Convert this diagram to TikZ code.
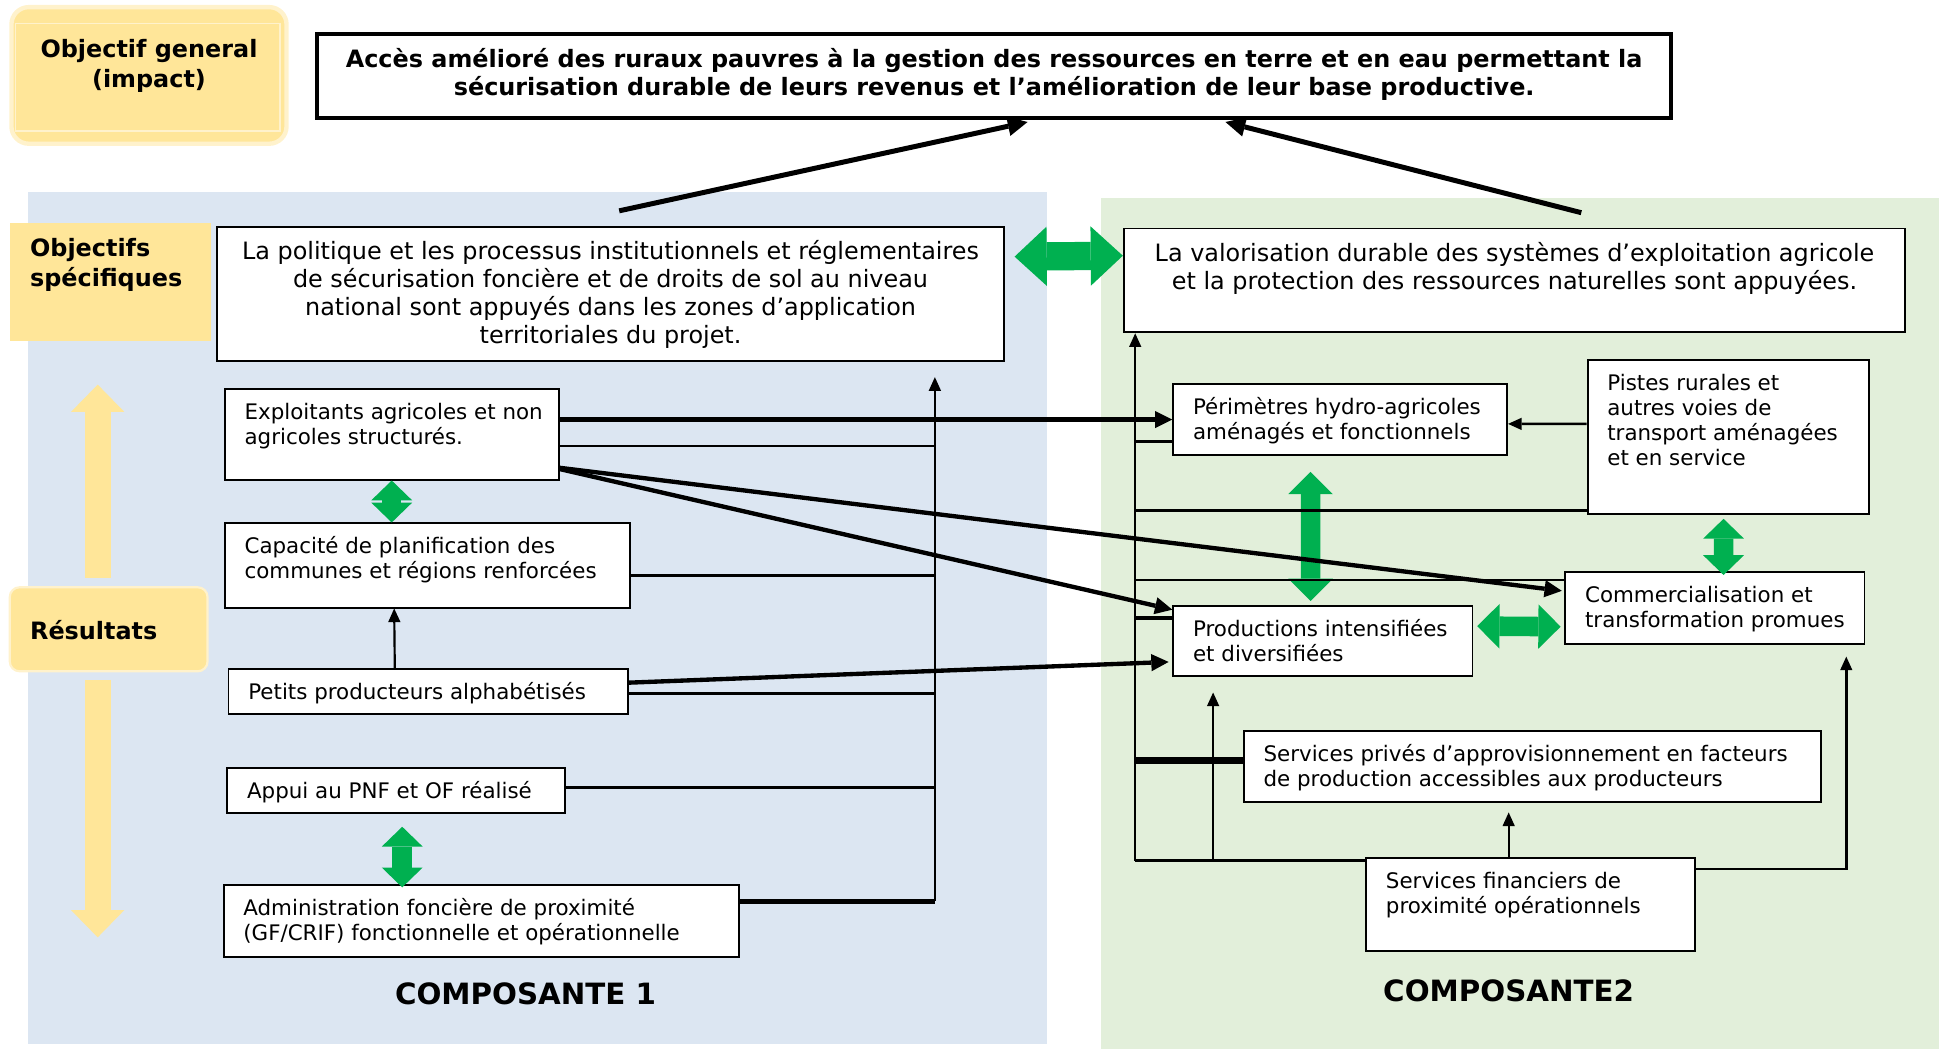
\documentclass[tikz,border=0pt]{standalone}
\usepackage{fontspec}
\setmainfont{DejaVu Sans}
\usepackage{tikz}
\usetikzlibrary{arrows.meta}
\definecolor{panelblue}{HTML}{DCE6F2}
\definecolor{panelgreen}{HTML}{E2EFDA}
\definecolor{labelgold}{HTML}{FFE699}
\definecolor{labelglow}{HTML}{FFF2CC}
\definecolor{linkgreen}{HTML}{00B050}
\newcommand{\lefttext}[3]{\parbox[t][#2][t]{#1}{\raggedright\strut#3}}
\newcommand{\midtext}[3]{\parbox[t][#2][t]{#1}{\centering\strut#3}}
\tikzset{
  font={\fontsize{9.85pt}{11.5pt}\selectfont},
  result/.style={draw=black, line width=0.9pt, fill=white, anchor=north west, inner xsep=0.32cm, inner ysep=0.21cm},
  objective/.style={result, inner xsep=0.2cm, font={\fontsize{11pt}{12.9pt}\selectfont}},
  goal/.style={result, line width=1.8pt, inner xsep=0.2cm, font={\fontsize{11pt}{13.1pt}\selectfont\bfseries}},
  tag/.style={fill=labelgold, anchor=north west, inner xsep=0.33cm, inner ysep=0.21cm, font={\fontsize{11pt}{13.8pt}\selectfont\bfseries}},
  compname/.style={anchor=base, font={\fontsize{13.5pt}{15pt}\selectfont\bfseries}},
  goalarrow/.style={line width=2.3pt, -{Triangle[length=0.32cm,width=0.32cm,line width=0pt]}},
  crossarrow/.style={line width=2pt, -{Triangle[length=0.28cm,width=0.28cm,line width=0pt]}},
  feedarrow/.style={line width=1pt, -{Triangle[length=0.22cm,width=0.2cm,line width=0pt]}},
  twoway/.style={draw=linkgreen, line width=9pt, {Triangle[length=0.32cm,width=0.66cm,line width=0pt]}-{Triangle[length=0.32cm,width=0.66cm,line width=0pt]}},
  twowaymid/.style={draw=linkgreen, line width=9pt, {Triangle[length=0.36cm,width=0.72cm,line width=0pt]}-{Triangle[length=0.36cm,width=0.72cm,line width=0pt]}},
  twowaybig/.style={draw=linkgreen, line width=13pt, {Triangle[length=0.52cm,width=0.96cm,line width=0pt]}-{Triangle[length=0.52cm,width=0.96cm,line width=0pt]}},
  stage/.style={draw=labelgold, line width=12pt, -{Triangle[length=0.44cm,width=0.86cm,line width=0pt]}}}

\begin{document}
\begin{tikzpicture}[x=0.02cm,y=-0.02cm]
\tikzstyle{every node}+=[inner sep=0pt]
\useasboundingbox (0,0) rectangle (1568,848);
\fill [panelblue] (22.5,155) rectangle (846.8,844);
\fill [panelgreen] (890,160) rectangle (1568,848);
\node [tag, rounded corners=0.28cm, draw=labelglow, line width=2pt, inner xsep=0.2cm, inner ysep=0.48cm] (impact) at (7.5,4) {\midtext{4.05cm}{1.25cm}{Objectif general\\(impact)}};
\draw [labelglow, line width=0.6pt] ([shift={(5,15)}]impact.north west) rectangle ([shift={(-7,-12)}]impact.south east);
\node [tag] (spec) at (7.5,180) {\lefttext{2.59cm}{1.49cm}{Objectifs\\spécifiques}};
\node [tag, rounded corners=0.16cm, draw=labelglow, line width=1pt, inner ysep=0.5cm] (res) at (7,474) {\lefttext{2.54cm}{0.36cm}{Résultats}};
\node [goal] (top) at (255,26) {\midtext{21.5cm}{0.94cm}{Accès amélioré des ruraux pauvres à la gestion des ressources en terre et en eau permettant la\\sécurisation durable de leurs revenus et l’amélioration de leur base productive.}};
\node [objective] (os1) at (175,182.5) {\midtext{12.32cm}{1.75cm}{La politique et les processus institutionnels et réglementaires\\de sécurisation foncière et de droits de sol au niveau\\national sont appuyés dans les zones d’application\\territoriales du projet.}};
\node [objective] (os2) at (908,184) {\midtext{12.24cm}{1.26cm}{La valorisation durable des systèmes d’exploitation agricole\\et la protection des ressources naturelles sont appuyées.}};
\node [result] (r1) at (181,314) {\lefttext{4.76cm}{1.04cm}{\mbox{Exploitants agricoles et non}\\agricoles structurés.}};
\node [result] (r2) at (181,422.5) {\lefttext{5.92cm}{0.94cm}{Capacité de planification des\\communes et régions renforcées}};
\node [result] (r3) at (184,540) {\lefttext{5.82cm}{0.31cm}{Petits producteurs alphabétisés}};
\node [result] (r4) at (183,620) {\lefttext{4.82cm}{0.32cm}{Appui au PNF et OF réalisé}};
\node [result] (r5) at (180,715) {\lefttext{7.7cm}{0.74cm}{Administration foncière de proximité\\(GF/CRIF) fonctionnelle et opérationnelle}};
\node [result] (peri) at (948,310) {\lefttext{4.76cm}{0.72cm}{Périmètres hydro-agricoles\\aménagés et fonctionnels}};
\node [result] (pistes) at (1283,290) {\lefttext{3.92cm}{2.08cm}{Pistes rurales et\\autres voies de\\transport aménagées\\et en service}};
\node [result] (comm) at (1265,462) {\lefttext{4.2cm}{0.74cm}{Commercialisation et\\transformation promues}};
\node [result] (prod) at (948,489) {\lefttext{4.2cm}{0.72cm}{Productions intensifiées\\et diversifiées}};
\node [result] (priv) at (1005,590.5) {\lefttext{8.7cm}{0.72cm}{Services privés d’approvisionnement en facteurs\\de production accessibles aux producteurs}};
\node [result] (fin) at (1104,693) {\lefttext{4.68cm}{1.08cm}{Services financiers de\\proximité opérationnels}};
\node [compname] (comp1) at (425,812) {COMPOSANTE 1};
\node [compname] (comp2) at (1220,810) {COMPOSANTE2};
\coordinate (up) at (79,311);
\coordinate (down) at (79,758);
\draw [stage, shorten <=0.14cm] (up |- res.north) -- (up);
\draw [stage, shorten <=0.12cm] (down |- res.south) -- (down);
\draw [twowaybig] ([shift={(8,-30)}]os1.east) -- ([shift={(0,-20)}]os2.west);
\draw [twoway] (r1.south) -- (r1.south |- r2.north);
\draw [twoway] ([shift={(5,10)}]r4.south) -- ([shift={(5,59)}]r4.south);
\draw [twowaymid] ([shift={(-24,13)}]peri.south) -- ([shift={(-10,-3)}]prod.north);
\draw [twoway] ([shift={(-4,3)}]pistes.south) -- ([shift={(7,3)}]comm.north);
\draw [twowaymid] ([shift={(3,-12)}]prod.east) -- ([shift={(-3,15)}]comm.west);
\draw [goalarrow] ([shift={(7,-12)}]os1.north) -- ([shift={(27,1.5)}]top.south);
\draw [goalarrow] ([shift={(54,-12)}]os2.north) -- ([shift={(187,1.5)}]top.south);
\coordinate (c1top) at (756,305);
\coordinate (c1bot) at (756,729);
\coordinate (a1) at (756,361);
\coordinate (a2) at (756,465);
\coordinate (a3) at (756,561);
\coordinate (a4) at (756,637);
\draw [feedarrow] (c1bot) -- (c1top);
\draw [line width=0.9pt] (a1 -| r1.east) -- (a1);
\draw [line width=1.4pt] (a2 -| r2.east) -- (a2);
\draw [line width=1.2pt] (a3 -| r3.east) -- (a3);
\draw [line width=1.2pt] (a4 -| r4.east) -- (a4);
\draw [line width=2.3pt] (c1bot -| r5.east) -- (c1bot);
\draw [feedarrow] ([shift={(-27,0)}]r3.north) -- ([shift={(-27,0)}]r2.south);
\draw [crossarrow] (r1.east |- peri.west) -- (peri.west);
\draw [crossarrow] ([shift={(0,27)}]r1.east) -- ([shift={(-2,-14)}]comm.west);
\draw [crossarrow] ([shift={(0,28)}]r1.east) -- ([shift={(0,4)}]prod.north west);
\draw [crossarrow] ([shift={(0,-7)}]r3.east) -- ([shift={(-3,17)}]prod.west);
\coordinate (c2bot) at (918,696);
\coordinate (b1) at (918,357);
\coordinate (b2) at (918,413);
\coordinate (b3) at (918,469);
\coordinate (b4) at (918,500);
\coordinate (b5) at (918,615);
\coordinate (b6) at (981,560);
\coordinate (b7) at (1220,657);
\coordinate (b8) at (1493,531);
\draw [feedarrow] (c2bot) -- (c2bot |- os2.south);
\draw [line width=1.8pt] (b1 -| peri.west) -- (b1);
\draw [line width=1.2pt] (b2 -| pistes.west) -- (b2);
\draw [line width=1.2pt] (b3 -| comm.west) -- (b3);
\draw [line width=1.8pt] (b4 -| prod.west) -- (b4);
\draw [line width=2.8pt] (b5 -| priv.west) -- (b5);
\draw [line width=1.5pt] (c2bot -| fin.west) -- (c2bot);
\draw [feedarrow] (b6 |- c2bot) -- (b6);
\draw [feedarrow] (b7 |- fin.north) -- (b7);
\draw [feedarrow, line width=1.2pt] ([shift={(0,-28.5)}]fin.east) -| (b8);
\draw [feedarrow, line width=1.2pt] ([shift={(0,-10.5)}]pistes.west) -- ([shift={(0,3.5)}]peri.east);
\end{tikzpicture}
\end{document}
